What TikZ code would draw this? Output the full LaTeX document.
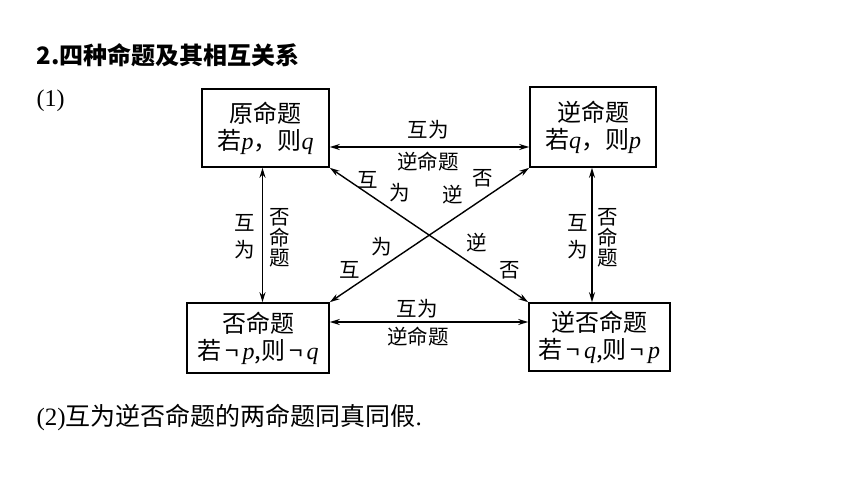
\documentclass[tikz,border=0pt]{standalone}
\usepackage{fontspec}
\setmainfont{Liberation Serif}
\newfontfamily\cjk{Noto Sans CJK SC}
\usetikzlibrary{arrows.meta}
\newcommand{\mv}[1]{\textrm{\textit{#1}}}

\begin{document}
\begin{tikzpicture}[x=1pt,y=-1pt,
  box/.style={draw,line width=1.6pt,align=center,inner sep=0pt,
    font=\fontsize{24}{27}\selectfont\cjk},
  lbl/.style={inner sep=0pt,align=center,font=\fontsize{20.5}{20.5}\selectfont\cjk},
  >={Stealth[length=10pt,width=6pt]}]
\useasboundingbox (0,0) rectangle (860,484);
\node[anchor=west,font=\fontsize{24}{26}\selectfont\cjk\bfseries] (title) at (33,55) {2.四种命题及其相互关系};
\node[anchor=west,font=\fontsize{24}{26}\selectfont] (part1) at (33,101) {(1)};
\node[anchor=west,font=\fontsize{25}{26}\selectfont] (part2) at (33,418) {(2){\cjk 互为逆否命题的两命题同真同假}.};
% the four propositions
\node[box,minimum width=127pt,minimum height=78pt] (orig) at (265.5,128) {原命题\\若\mv{p}，则\mv{q}};
\node[box,minimum width=126pt,minimum height=80pt] (conv) at (593,127) {逆命题\\若\mv{q}，则\mv{p}};
\node[box,minimum width=142pt,minimum height=70pt] (inv) at (258,338) {否命题\\若\,¬\,\mv{p},则\,¬\,\mv{q}};
\node[box,minimum width=141pt,minimum height=68pt] (contra) at (599.5,337) {逆否命题\\若\,¬\,\mv{q},则\,¬\,\mv{p}};
% relations
\draw[<->,line width=1.4pt] ([yshift=-19pt]orig.east) -- ([yshift=-19pt]orig.east -| conv.west);
\draw[<->,line width=1.4pt] ([yshift=16pt]inv.east) -- ([yshift=16pt]inv.east -| contra.west);
\draw[<->,line width=1.4pt] ([xshift=-3pt]orig.south) -- ([xshift=-3pt]orig.south |- inv.north);
\draw[<->,line width=1.4pt] ([xshift=-1pt]conv.south) -- ([xshift=-1pt]conv.south |- contra.north);
\draw[<->,line width=1.4pt] (orig.south east) -- (contra.north west);
\draw[<->,line width=1.4pt] (conv.south west) -- (inv.north east);
% labels
\node[lbl] (t1) at (428,130) {互为};
\node[lbl] (t2) at (428,162) {逆命题};
\node[lbl] (b1) at (417,309) {互为};
\node[lbl] (b2) at (418,337) {逆命题};
\node[lbl] (l1) at (245,223) {互};
\node[lbl] (l2) at (245,250) {为};
\node[lbl] (l3) at (280,238) {否\\命\\题};
\node[lbl] (r1) at (578,223) {互};
\node[lbl] (r2) at (578,250) {为};
\node[lbl] (r3) at (608,238) {否\\命\\题};
\node[lbl] (d1) at (368,180) {互};
\node[lbl] (d2) at (400,193) {为};
\node[lbl] (d3) at (453,195) {逆};
\node[lbl] (d4) at (483,178) {否};
\node[lbl] (d5) at (382,247) {为};
\node[lbl] (d6) at (350,270) {互};
\node[lbl] (d7) at (477,243) {逆};
\node[lbl] (d8) at (510,270) {否};
\end{tikzpicture}
\end{document}
